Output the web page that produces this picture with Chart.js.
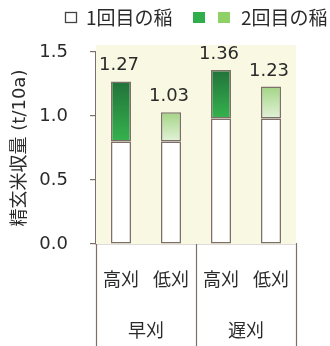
<!DOCTYPE html>
<html>
<head>
<meta charset="utf-8">
<script src="https://cdn.jsdelivr.net/npm/chart.js@4"></script>
<style>
  html, body { margin: 0; padding: 0; background: #fff; }
  #wrap { width: 330px; height: 346px; }
</style>
</head>
<body>
<div id="wrap"><canvas id="yieldChart" width="330" height="346"></canvas></div>
<script>
// 精玄米収量 (t/10a), 1回目 + 2回目
const cutHeights = ['高刈', '低刈', '高刈', '低刈'];
const harvestTimes = ['早刈', '遅刈'];
const firstCrop = [0.80, 0.80, 0.98, 0.98];
const secondCrop = [0.47, 0.23, 0.38, 0.25];
const yTicks = [0.0, 0.5, 1.0, 1.5];

const JP = '"Noto Sans CJK JP", sans-serif';
const NUM = '"DejaVu Sans", "Noto Sans CJK JP", sans-serif';
const lineColor = '#7d706a';
const textColor = '#2a2a2a';

const darkGreen = ['#21723a', '#35b34e'];
const lightGreen = ['#a3d585', '#e3f2d9'];

function secondFill(ctx) {
  const chart = ctx.chart;
  const y = chart.scales.y;
  if (!y || !chart.chartArea) return darkGreen[1];
  const i = ctx.dataIndex;
  const top = y.getPixelForValue(firstCrop[i] + secondCrop[i]);
  const bottom = y.getPixelForValue(firstCrop[i]);
  const stops = i % 2 === 0 ? darkGreen : lightGreen;
  const g = chart.ctx.createLinearGradient(0, top, 0, bottom);
  g.addColorStop(0, stops[0]);
  g.addColorStop(1, stops[1]);
  return g;
}

// cream plot background
const plotBg = {
  id: 'plotBg',
  beforeDatasetsDraw(chart) {
    const { ctx, chartArea } = chart;
    ctx.save();
    ctx.fillStyle = '#f9f9e3';
    ctx.fillRect(chartArea.left, chartArea.top - 7, chartArea.right - chartArea.left, chartArea.bottom - chartArea.top + 7);
    ctx.restore();
  }
};

// totals above the bars
const totals = {
  id: 'totals',
  afterDatasetsDraw(chart) {
    const { ctx } = chart;
    const meta = chart.getDatasetMeta(1);
    ctx.save();
    ctx.font = '18px ' + NUM;
    ctx.fillStyle = textColor;
    ctx.textAlign = 'center';
    ctx.textBaseline = 'alphabetic';
    meta.data.forEach((bar, i) => {
      const total = firstCrop[i] + secondCrop[i];
      ctx.fillText(total.toFixed(2), bar.x - 2, bar.y - 11);
    });
    ctx.restore();
  }
};

// group separators under the x axis + legend
const extras = {
  id: 'extras',
  afterDraw(chart) {
    const { ctx, chartArea } = chart;
    const x = chart.scales.x;
    const step = x.getPixelForValue(1) - x.getPixelForValue(0);
    ctx.save();
    ctx.strokeStyle = lineColor;
    ctx.lineWidth = 1.2;
    [0, 2, 4].forEach(i => {
      const px = Math.round(x.getPixelForValue(i) - step / 2) + 0.5;
      ctx.beginPath();
      ctx.moveTo(px, chartArea.bottom);
      ctx.lineTo(px, chart.height);
      ctx.stroke();
    });

    // legend
    ctx.font = '19px ' + JP;
    ctx.fillStyle = textColor;
    ctx.textAlign = 'left';
    ctx.textBaseline = 'middle';
    ctx.strokeStyle = '#444';
    ctx.lineWidth = 1.3;
    ctx.strokeRect(65.5, 12.5, 11, 10);
    ctx.fillText(chart.data.datasets[0].label, 86, 18);
    ctx.fillStyle = '#2fae4b';
    ctx.fillRect(193, 12, 12, 11);
    ctx.fillStyle = '#8fd166';
    ctx.fillRect(218, 12, 12, 11);
    ctx.fillStyle = textColor;
    ctx.fillText(chart.data.datasets[1].label, 241, 18);
    ctx.restore();
  }
};

new Chart(document.getElementById('yieldChart'), {
  type: 'bar',
  data: {
    labels: cutHeights,
    datasets: [
      {
        label: '1回目の稲',
        data: firstCrop,
        backgroundColor: '#ffffff',
        borderColor: lineColor,
        borderWidth: 1.5,
        borderSkipped: false,
        barPercentage: 0.4,
        categoryPercentage: 1.0,
        xAxisID: 'x'
      },
      {
        label: '2回目の稲',
        data: secondCrop,
        backgroundColor: secondFill,
        borderColor: lineColor,
        borderWidth: 1.5,
        borderSkipped: false,
        barPercentage: 0.4,
        categoryPercentage: 1.0,
        xAxisID: 'x'
      }
    ]
  },
  options: {
    responsive: false,
    animation: false,
    layout: { padding: { top: 52, right: 34, left: 0, bottom: 0 } },
    plugins: {
      legend: { display: false },
      tooltip: { enabled: false }
    },
    scales: {
      x: {
        stacked: true,
        position: 'bottom',
        grid: { display: false },
        border: { display: true, color: lineColor, width: 1.2 },
        ticks: { color: textColor, font: { family: JP, size: 18 }, padding: 16 },
        afterFit(scale) { scale.height = 50; }
      },
      x2: {
        type: 'category',
        labels: harvestTimes,
        position: 'bottom',
        offset: true,
        grid: { display: false },
        border: { display: false },
        ticks: { color: textColor, font: { family: JP, size: 18 }, padding: 17 },
        afterFit(scale) { scale.height = 52; }
      },
      y: {
        stacked: true,
        min: 0,
        max: 1.5,
        afterBuildTicks(scale) { scale.ticks = yTicks.map(v => ({ value: v })); },
        ticks: {
          color: textColor,
          font: { family: NUM, size: 18 },
          padding: 22,
          callback: v => v.toFixed(1)
        },
        grid: { drawOnChartArea: false, color: lineColor, tickLength: 6, lineWidth: 1.2 },
        border: { display: true, color: lineColor, width: 1.2 },
        title: {
          display: true,
          text: '精玄米収量 (t/10a)',
          color: textColor,
          font: { family: NUM, size: 18 },
          padding: { top: 10, bottom: 0 }
        },
        afterFit(scale) { scale.width = 96; }
      }
    }
  },
  plugins: [plotBg, totals, extras]
});
</script>
</body>
</html>
